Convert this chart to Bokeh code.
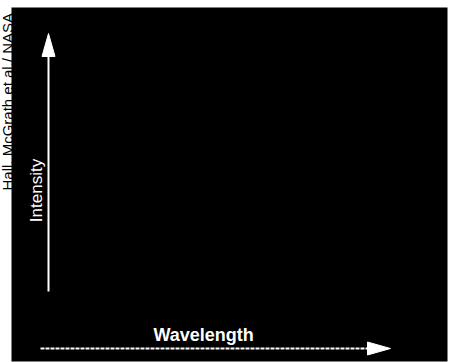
import math
from bokeh.plotting import figure
from bokeh.models import Range1d
from bokeh.core.properties import value
from bokeh.embed import file_html
from bokeh.resources import INLINE

W, H = 450, 362

# Diagram content (image-pixel coordinates, y measured from top)
panel_left, panel_right, panel_top, panel_bottom = [11], [447], [7], [361]
axis_labels = ["Intensity", "Wavelength"]
credit = "Hall, McGrath et al./ NASA"
v_arrow = dict(x=48, y_start=291, y_end=33)
h_arrow = dict(y=348, x_start=40, x_end=390)
head_len, head_w = 23, 13

def fy(y):
    return H - y

p = figure(width=W, height=H, x_range=Range1d(0, W), y_range=Range1d(0, H),
           output_backend="svg", toolbar_location=None, min_border=0)
p.axis.visible = False
p.grid.visible = False
p.outline_line_color = None
p.background_fill_color = "white"
p.border_fill_color = "white"

p.quad(left=panel_left, right=panel_right, top=[fy(v) for v in panel_top],
       bottom=[fy(v) for v in panel_bottom], fill_color="black", line_color=None)

# vertical arrow
vx = v_arrow["x"]
p.segment(x0=[vx], y0=[fy(v_arrow["y_start"])], x1=[vx],
          y1=[fy(v_arrow["y_end"] + head_len - 2)], line_color="white", line_width=2)
p.patch(x=[vx, vx - head_w / 2, vx + head_w / 2],
        y=[fy(v_arrow["y_end"]), fy(v_arrow["y_end"] + head_len), fy(v_arrow["y_end"] + head_len)],
        fill_color="white", line_color="white")

# horizontal arrow
hy = fy(h_arrow["y"])
p.segment(x0=[h_arrow["x_start"]], y0=[hy], x1=[h_arrow["x_end"] - head_len + 2], y1=[hy],
          line_color="white", line_width=2, line_dash="4 1")
p.patch(x=[h_arrow["x_end"], h_arrow["x_end"] - head_len, h_arrow["x_end"] - head_len],
        y=[hy, hy + head_w / 2, hy - head_w / 2],
        fill_color="white", line_color="white")

p.text(x=[36], y=[fy(190)], text=[axis_labels[0]], angle=math.pi / 2,
       text_color="white", text_font=value("Liberation Sans"), text_font_size="17px",
       text_align="center", text_baseline="middle")
p.text(x=[153], y=[fy(334)], text=[axis_labels[1]],
       text_color="white", text_font=value("Liberation Sans"), text_font_size="18px",
       text_font_style="bold", text_align="left", text_baseline="middle")
p.text(x=[7], y=[fy(190)], text=[credit], angle=math.pi / 2,
       text_color="black", text_font=value("Liberation Sans"), text_font_size="15px",
       text_align="left", text_baseline="middle")

open("out.html", "w").write(file_html(p, INLINE))
